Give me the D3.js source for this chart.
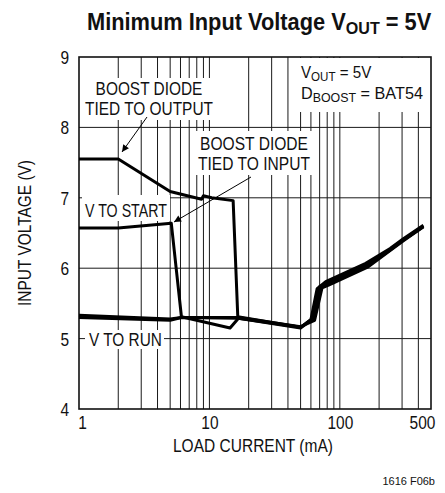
<!DOCTYPE html>
<html>
<head>
<meta charset="utf-8">
<script src="https://cdn.jsdelivr.net/npm/d3@7/dist/d3.min.js"></script>
<style>
  html, body { margin: 0; padding: 0; background: #fff; }
  svg { display: block; }
  text { font-family: "Liberation Sans", Arial, Helvetica, sans-serif; fill: #111; }
</style>
</head>
<body>
<script>
// ---------------- data ----------------
const xTickValues = [1, 10, 100, 500];
const xTickLabels = ["1", "10", "100", "500"];
const yTickValues = [4, 5, 6, 7, 8, 9];
const yTickLabels = ["4", "5", "6", "7", "8", "9"];
const xGridValues = [2, 3, 4, 5, 6, 7, 8, 9, 10, 20, 30, 40, 50, 60, 70, 80, 90, 100, 200, 300, 400];

// load current (mA), input voltage (V)
const startBoostToOutput = [[1, 7.55], [2, 7.55], [5, 7.09], [8.7, 6.98], [9.0, 7.03], [10.4, 7.0], [15.2, 6.96], [16.5, 5.31], [50, 5.16], [60, 5.27], [67, 5.71], [78, 5.81], [158, 6.07], [243, 6.28], [307, 6.42], [437, 6.61]];
const startBoostToInput = [[1, 6.57], [2, 6.57], [5.1, 6.64], [6.1, 5.31], [14.4, 5.15], [16.7, 5.29], [50, 5.15], [62, 5.28], [70, 5.74], [80, 5.79], [161, 6.05], [243, 6.26], [307, 6.40], [437, 6.59]];
const runBoostToOutput = [[1, 5.33], [5, 5.28], [6.1, 5.30], [16.6, 5.30], [50, 5.17], [64, 5.26], [73, 5.72], [82, 5.76], [165, 6.02], [243, 6.25], [307, 6.39], [437, 6.59]];
const runBoostToInput = [[1, 5.30], [5, 5.26], [6.1, 5.30], [16.7, 5.29], [50, 5.16], [62, 5.29], [71, 5.73], [80, 5.78], [162, 6.04], [243, 6.26], [307, 6.40], [437, 6.60]];

const titleMain = "Minimum Input Voltage V";
const xTitle = "LOAD CURRENT (mA)";
const yTitle = "INPUT VOLTAGE (V)";
const figId = "1616 F06b";

// ---------------- layout ----------------
const W = 445, H = 493;
const M = { left: 79, right: 431, top: 57, bottom: 409 };
const NARROW = 0.86;

const svg = d3.select("body").append("svg").attr("width", W).attr("height", H);

const x = d3.scaleLog().domain([1, 500]).range([M.left, M.right]);
const y = d3.scaleLinear().domain([4, 9]).range([M.bottom, M.top]);

// text fitted horizontally to a width (condensed look)
function fitText(parent, px, py, anchor, targetW, size, build, weight) {
  const g = parent.append("g");
  const t = g.append("text").attr("text-anchor", anchor).style("font-size", size + "px");
  if (weight) t.style("font-weight", weight);
  build(t);
  const w = t.node().getBBox().width;
  const s = targetW ? targetW / w : NARROW;
  g.attr("transform", `translate(${px},${py}) scale(${s},1)`);
  return g;
}

// grid
const grid = svg.append("g");
grid.selectAll("line.v").data(xGridValues).join("line")
  .attr("x1", d => x(d)).attr("x2", d => x(d))
  .attr("y1", M.top).attr("y2", M.bottom)
  .attr("stroke", "#1a1a1a").attr("stroke-width", 1);
grid.selectAll("line.h").data(yTickValues.slice(1, -1)).join("line")
  .attr("x1", M.left).attr("x2", M.right)
  .attr("y1", d => y(d)).attr("y2", d => y(d))
  .attr("stroke", "#1a1a1a").attr("stroke-width", 1);

// white label backgrounds
const bgs = [
  [83, 78, 216, 120],   // boost diode tied to output
  [196, 131, 314, 175], // boost diode tied to input
  [296, 58, 428, 112],  // legend
  [82, 195, 170, 221],  // V TO START
  [85, 330, 164, 349]   // V TO RUN
];
svg.append("g").selectAll("rect").data(bgs).join("rect")
  .attr("x", d => d[0]).attr("y", d => d[1])
  .attr("width", d => d[2] - d[0]).attr("height", d => d[3] - d[1])
  .attr("fill", "#fff");

// frame
svg.append("rect").attr("x", M.left).attr("y", M.top)
  .attr("width", M.right - M.left).attr("height", M.bottom - M.top)
  .attr("fill", "none").attr("stroke", "#111").attr("stroke-width", 1.6);

// axes (labels only)
const xAxis = d3.axisBottom(x).tickValues(xTickValues).tickFormat((d, i) => xTickLabels[i]).tickSize(0).tickPadding(0);
const gx = svg.append("g").attr("transform", `translate(0,${M.bottom})`).call(xAxis);
gx.select(".domain").remove();
gx.selectAll("text").attr("dy", null).attr("y", 20).attr("font-family", null).attr("font-size", null)
  .style("font-size", "18px").attr("transform", `scale(${NARROW},1)`);
gx.selectAll(".tick").filter(d => d === 500).select("text").attr("x", -9 / NARROW);
gx.selectAll(".tick").filter(d => d === 1).select("text").attr("x", 3 / NARROW);

const yAxis = d3.axisLeft(y).tickValues(yTickValues).tickFormat((d, i) => yTickLabels[i]).tickSize(0).tickPadding(0);
const gy = svg.append("g").attr("transform", `translate(${M.left},0)`).call(yAxis);
gy.select(".domain").remove();
gy.selectAll("text").attr("dy", "0.36em").attr("x", -10 / NARROW).attr("font-family", null).attr("font-size", null)
  .style("font-size", "18px").attr("transform", `scale(${NARROW},1)`);

// curves
const line = d3.line().x(d => x(d[0])).y(d => y(d[1]));
const allSeries = [startBoostToOutput, startBoostToInput, runBoostToOutput, runBoostToInput];
svg.append("g").selectAll("path").data(allSeries).join("path")
  .attr("d", line)
  .attr("fill", "none").attr("stroke", "#000").attr("stroke-width", 3)
  .attr("stroke-linejoin", "round").attr("stroke-linecap", "butt");

// annotations
function twoLines(l1, l2, lh) {
  return t => {
    t.append("tspan").attr("x", 0).attr("y", 0).text(l1);
    t.append("tspan").attr("x", 0).attr("y", lh).text(l2);
  };
}
fitText(svg, 149, 95, "middle", 128, 18, twoLines("BOOST DIODE", "TIED TO OUTPUT", 20));
fitText(svg, 254, 150, "middle", 112, 18, twoLines("BOOST DIODE", "TIED TO INPUT", 20));
fitText(svg, 85, 217, "start", 82, 18, t => t.text("V TO START"));
fitText(svg, 89, 346, "start", 73, 18, t => t.text("V TO RUN"));

// legend
fitText(svg, 301, 78, "start", 71, 17, t => {
  t.append("tspan").text("V");
  t.append("tspan").attr("dy", 3).style("font-size", "13px").text("OUT");
  t.append("tspan").attr("dy", -3).text(" = 5V");
});
fitText(svg, 301, 99, "start", 122, 17, t => {
  t.append("tspan").text("D");
  t.append("tspan").attr("dy", 3).style("font-size", "13px").text("BOOST");
  t.append("tspan").attr("dy", -3).text(" = BAT54");
});

// arrows
const defs = svg.append("defs");
defs.append("marker").attr("id", "ah").attr("viewBox", "0 0 10 10")
  .attr("refX", 10).attr("refY", 5).attr("markerWidth", 9).attr("markerHeight", 7)
  .attr("markerUnits", "userSpaceOnUse").attr("orient", "auto")
  .append("path").attr("d", "M0,0 L10,5 L0,10 Z").attr("fill", "#000");
const arrows = [[147, 117, 122, 152], [251, 177, 174, 222]];
svg.append("g").selectAll("line").data(arrows).join("line")
  .attr("x1", d => d[0]).attr("y1", d => d[1]).attr("x2", d => d[2]).attr("y2", d => d[3])
  .attr("stroke", "#000").attr("stroke-width", 1).attr("marker-end", "url(#ah)");

// titles
fitText(svg, 87, 30, "start", 345, 23, t => {
  t.append("tspan").text(titleMain);
  t.append("tspan").attr("dy", 4).style("font-size", "17px").text("OUT");
  t.append("tspan").attr("dy", -4).text(" = 5V");
}, "bold");

fitText(svg, 173, 452, "start", 160, 18, t => t.text(xTitle));
svg.append("text").attr("transform", `translate(31,${(M.top + M.bottom) / 2}) rotate(-90) scale(${NARROW},1)`)
  .attr("text-anchor", "middle").style("font-size", "18px").text(yTitle);
svg.append("text").attr("x", 435).attr("y", 485).attr("text-anchor", "end")
  .style("font-size", "11px").text(figId);
</script>
</body>
</html>
